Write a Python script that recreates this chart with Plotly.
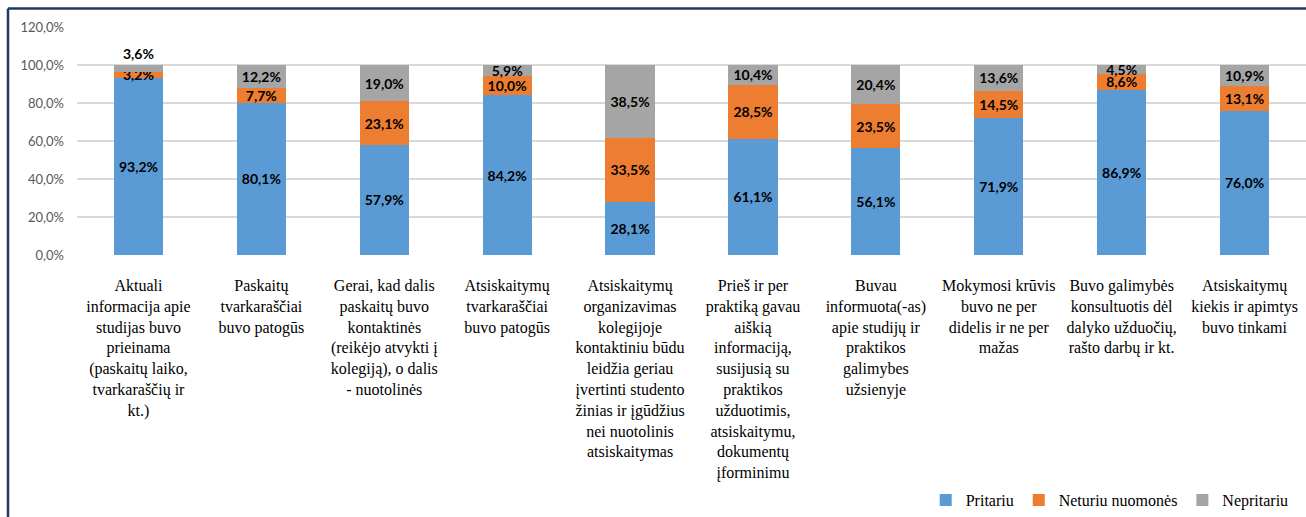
import plotly.graph_objects as go

# survey statements (x axis categories)
categories = [
    "Aktuali<br>informacija apie<br>studijas buvo<br>prieinama<br>(paskaitų laiko,<br>tvarkaraščių ir<br>kt.)",
    "Paskaitų<br>tvarkaraščiai<br>buvo patogūs",
    "Gerai, kad dalis<br>paskaitų buvo<br>kontaktinės<br>(reikėjo atvykti į<br>kolegiją), o dalis<br>- nuotolinės",
    "Atsiskaitymų<br>tvarkaraščiai<br>buvo patogūs",
    "Atsiskaitymų<br>organizavimas<br>kolegijoje<br>kontaktiniu būdu<br>leidžia geriau<br>įvertinti studento<br>žinias ir įgūdžius<br>nei nuotolinis<br>atsiskaitymas",
    "Prieš ir per<br>praktiką gavau<br>aiškią<br>informaciją,<br>susijusią su<br>praktikos<br>užduotimis,<br>atsiskaitymu,<br>dokumentų<br>įforminimu",
    "Buvau<br>informuota(-as)<br>apie studijų ir<br>praktikos<br>galimybes<br>užsienyje",
    "Mokymosi krūvis<br>buvo ne per<br>didelis ir ne per<br>mažas",
    "Buvo galimybės<br>konsultuotis dėl<br>dalyko užduočių,<br>rašto darbų ir kt.",
    "Atsiskaitymų<br>kiekis ir apimtys<br>buvo tinkami",
]

pritariu = [93.2, 80.1, 57.9, 84.2, 28.1, 61.1, 56.1, 71.9, 86.9, 76.0]
neturiu = [3.2, 7.7, 23.1, 10.0, 33.5, 28.5, 23.5, 14.5, 8.6, 13.1]
nepritariu = [3.6, 12.2, 19.0, 5.9, 38.5, 10.4, 20.4, 13.6, 4.5, 10.9]

y_ticks = [0, 20, 40, 60, 80, 100, 120]

W, H = 1306, 517
ML, MR, MT, MB = 77, 0, 27, 257

SANS = "Lato"
SERIF = "Liberation Serif"


def pct(values):
    return [f"{v:.1f}".replace(".", ",") + "%" for v in values]


fig = go.Figure()

series = [
    ("Pritariu", pritariu, "#5B9BD5"),
    ("Neturiu nuomonės", neturiu, "#ED7D31"),
    ("Nepritariu", nepritariu, "#A5A5A5"),
]
for name, vals, color in series:
    if name == "Nepritariu":
        # the tiny first segment has its label placed above the bar
        tpos = ["outside"] + ["inside"] * (len(vals) - 1)
    else:
        tpos = "inside"
    fig.add_trace(go.Bar(
        name=name,
        x=categories,
        y=vals,
        marker=dict(color=color, line=dict(width=0)),
        text=pct(vals),
        textposition=tpos,
        insidetextanchor="middle",
        constraintext="none",
        textangle=0,
        textfont=dict(family=SANS, size=14, color="#000000", weight="bold"),
        outsidetextfont=dict(family=SANS, size=14, color="#000000", weight="bold"),
        cliponaxis=False,
        hoverinfo="skip",
    ))

plot_w = W - ML - MR
plot_h = H - MT - MB

# dark blue frame: only the top and left edges are inside the picture
frame_x = (8 - ML) / plot_w
frame_y = (MT + plot_h - 8) / plot_h
frame = dict(color="#203864", width=2.5)
fig.add_shape(type="line", xref="paper", yref="paper",
              x0=frame_x, x1=1.2, y0=frame_y, y1=frame_y, line=frame, layer="above")
fig.add_shape(type="line", xref="paper", yref="paper",
              x0=frame_x, x1=frame_x, y0=frame_y, y1=-1.5, line=frame, layer="above")

fig.update_layout(
    width=W, height=H,
    margin=dict(l=ML, r=MR, t=MT, b=MB),
    paper_bgcolor="white",
    plot_bgcolor="white",
    barmode="stack",
    bargap=0.6,
    showlegend=True,
    legend=dict(
        orientation="h",
        traceorder="normal",
        x=0.99, xanchor="right",
        y=-(511 - MT - plot_h) / plot_h, yanchor="middle",
        font=dict(family=SERIF, size=16, color="#000000"),
        itemwidth=30,
        bgcolor="rgba(0,0,0,0)",
    ),
    xaxis=dict(
        tickfont=dict(family=SERIF, size=16, color="#000000"),
        tickangle=0,
        showgrid=False,
        showline=False,
        ticks="",
        ticklabelstandoff=19,
        fixedrange=True,
    ),
    yaxis=dict(
        range=[0, 120],
        tickvals=y_ticks,
        ticktext=pct(y_ticks),
        tickfont=dict(family=SANS, size=13, color="#595959"),
        showgrid=True,
        gridcolor="#D9D9D9",
        gridwidth=1.5,
        zeroline=False,
        showline=False,
        ticklabelstandoff=12,
        fixedrange=True,
    ),
)

# drop the default page margin so the figure sits at the window's corner
fig.write_html(
    "out.html",
    config={"displayModeBar": False},
    post_script="document.body.style.margin='0';",
)
